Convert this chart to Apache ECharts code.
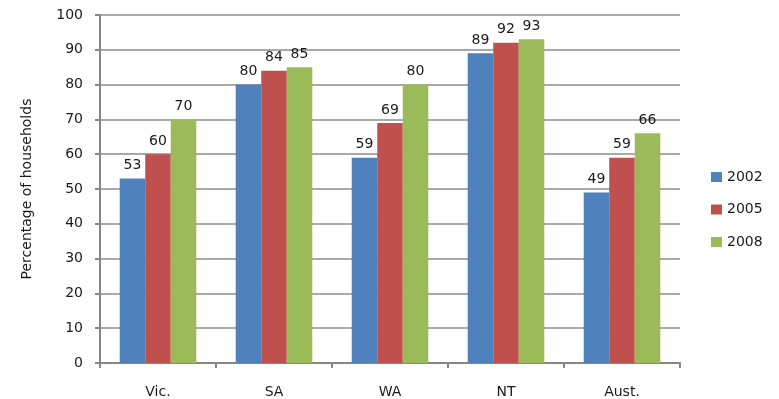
<!DOCTYPE html>
<html><head><meta charset="utf-8">
<script src="https://cdn.jsdelivr.net/npm/echarts@6/dist/echarts.min.js"></script>
<style>html,body{margin:0;padding:0;background:#fff}#c{width:779px;height:399px}</style>
</head><body><div id="c"></div>
<script>
const categories = ['Vic.', 'SA', 'WA', 'NT', 'Aust.'];
const seriesNames = ['2002', '2005', '2008'];
const values2002 = [53, 80, 59, 89, 49];
const values2005 = [60, 84, 69, 92, 59];
const values2008 = [70, 85, 80, 93, 66];
const colors = ['#4f81bd', '#c0504d', '#9bbb59'];
const FONT = 'DejaVu Sans';
const TXT = '#1a1a1a';

const chart = echarts.init(document.getElementById('c'));
const data = [values2002, values2005, values2008];
chart.setOption({
  animation: false,
  textStyle: {fontFamily: FONT},
  grid: {left: 100, right: 99, top: 15, bottom: 36, containLabel: false, outerBoundsMode: 'none'},
  legend: {
    orient: 'vertical', left: 711, top: 170, padding: 0, itemWidth: 11, itemHeight: 10, itemGap: 18.5, itemTextGap: 6,
    textStyle: {fontFamily: FONT, fontSize: 14, color: TXT},
    icon: 'rect', data: seriesNames
  },
  xAxis: {
    type: 'category', data: categories,
    axisLine: {lineStyle: {color: '#868686', width: 2}},
    axisTick: {show: true, length: 5, lineStyle: {color: '#868686', width: 2}},
    axisLabel: {fontFamily: FONT, fontSize: 14, color: TXT, margin: 22}
  },
  yAxis: {
    type: 'value', min: 0, max: 100, interval: 10,
    name: 'Percentage of households', nameLocation: 'middle', nameGap: 66,
    nameTextStyle: {fontFamily: FONT, fontSize: 14, color: TXT},
    axisLine: {show: true, lineStyle: {color: '#868686', width: 2}},
    axisTick: {show: true, length: 5, lineStyle: {color: '#868686', width: 2}},
    axisLabel: {fontFamily: FONT, fontSize: 14, color: TXT, margin: 17},
    splitLine: {lineStyle: {color: '#8c8c8c', width: 1.5}}
  },
  series: seriesNames.map((n, i) => ({
    name: n, type: 'bar', data: data[i], barGap: '0%', barCategoryGap: '34%',
    itemStyle: {color: colors[i]},
    label: {show: true, position: 'top', distance: 6, fontFamily: FONT, fontSize: 14, color: TXT}
  }))
});
</script></body></html>
